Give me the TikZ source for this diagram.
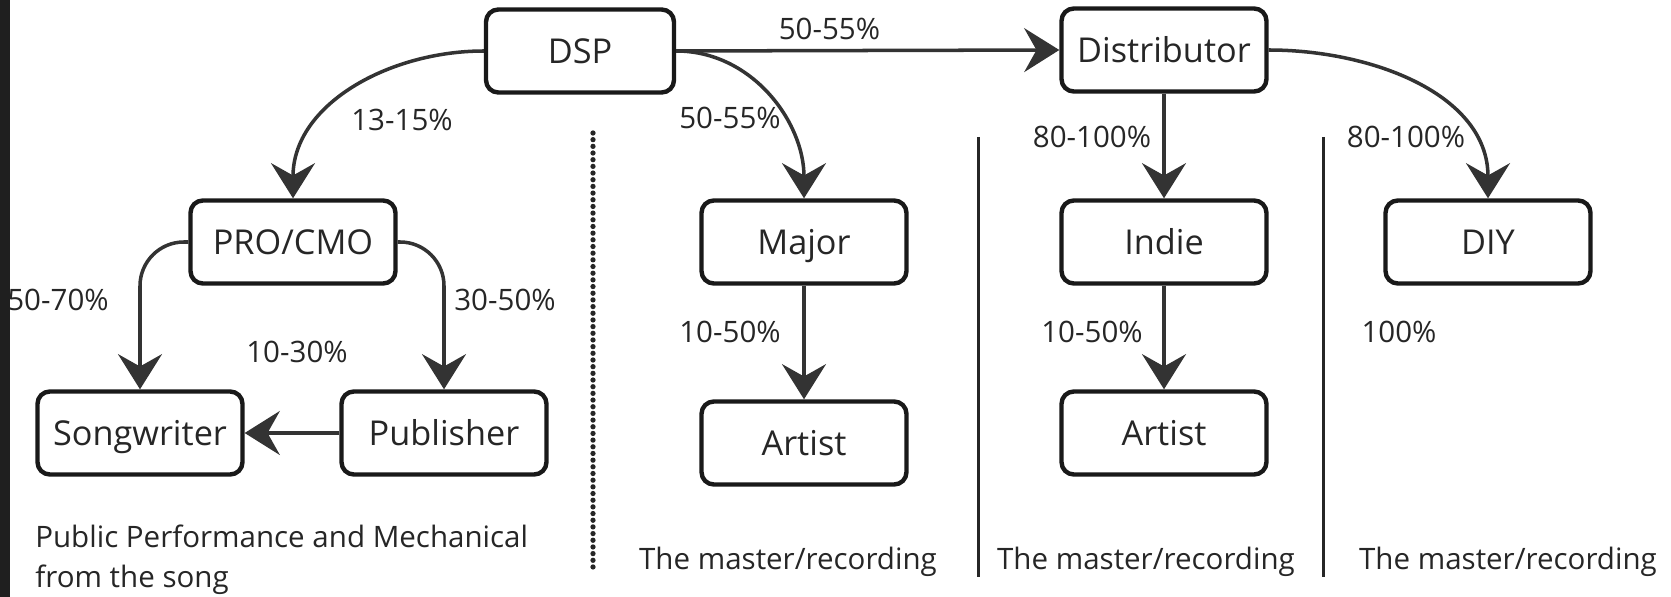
\documentclass[tikz,border=0pt]{standalone}
\usepackage{fontspec}
\setmainfont{Open Sans}
\usetikzlibrary{arrows.meta}

\begin{document}
\begin{tikzpicture}[x = 0.02cm, y = -0.02cm,
  box/.style = {draw = black!90, line width = 2.5pt, rounded corners = 7pt, minimum width = 4.1cm, minimum height = 1.66cm, text height = 14pt, text depth = 0pt, text = black!85, font = \fontsize{19.5}{23}\selectfont},
  pct/.style = {text = black!85, font = \fontsize{16.8}{20}\selectfont},
  flow/.style = {draw = black!80, line width = 2pt, -{Stealth[length = 20pt, width = 25pt, inset = 7pt]}},
  split/.style = {draw = black!85, line width = 1.7pt}]
\useasboundingbox (0,0) rectangle (1671,597);
\node[box, minimum width = 3.76cm](dsp) at (580,51){DSP};
\node[box](dist) at (1164,50){Distributor};
\node[box](pro) at (293,242){PRO/CMO};
\node[box](song) at (140,433){Songwriter};
\node[box](pub) at (444,433){Publisher};
\node[box](major) at (804,242){Major};
\node[box](indie) at (1164,242){Indie};
\node[box](diy) at (1488,242){DIY};
\node[box](art1) at (804,443){Artist};
\node[box](art2) at (1164,433){Artist};
\draw[flow] (dsp.east) -- (dist.west) node[pct, above, pos = .4, yshift = 2pt]{50-55\%};
\draw[flow] (dsp.west) to[out = 180, in = 90] (pro.north);
\draw[flow] (dsp.east) to[out = 0, in = 90] (major.north);
\draw[flow] (dist.east) to[out = 0, in = 90] (diy.north);
\draw[flow] (dist.south) -- (indie.north);
\draw[flow, rounded corners = 25pt] (pro.west) -| (song.north);
\draw[flow, rounded corners = 25pt] (pro.east) -| (pub.north);
\draw[flow] (pub.west) -- (song.east);
\draw[flow] (major.south) -- (art1.north);
\draw[flow] (indie.south) -- (art2.north);
\node[pct](p1) at (402,120){13-15\%};
\node[pct](p2) at (730,118){50-55\%};
\node[pct](p3) at (1092,137){80-100\%};
\node[pct](p4) at (1406,137){80-100\%};
\node[pct](p5) at (58,300){50-70\%};
\node[pct](p6) at (505,300){30-50\%};
\node[pct](p7) at (297,352){10-30\%};
\node[pct](p8) at (730,332){10-50\%};
\node[pct](p9) at (1092,332){10-50\%};
\node[pct](p10) at (1399,332){100\%};
\node[pct, anchor = west, align = left, inner sep = 0pt, font = \fontsize{16.8}{22.8}\selectfont](pub note) at (35,560){Public Performance and Mechanical\\from the song};
\node[pct](rec1) at (788,562){The master/recording};
\node[pct](rec2) at (1146,562){The master/recording};
\node[pct](rec3) at (1508,562){The master/recording};
\draw[split, line width = 3pt, line cap = round, dash pattern = on 0pt off 3.8pt] (593,133) -- (593,573);
\draw[split] (978,137) -- (978,577);
\draw[split] (1323,137) -- (1323,577);
\fill[black!88] (0,0) rectangle (10,597);
\end{tikzpicture}
\end{document}
